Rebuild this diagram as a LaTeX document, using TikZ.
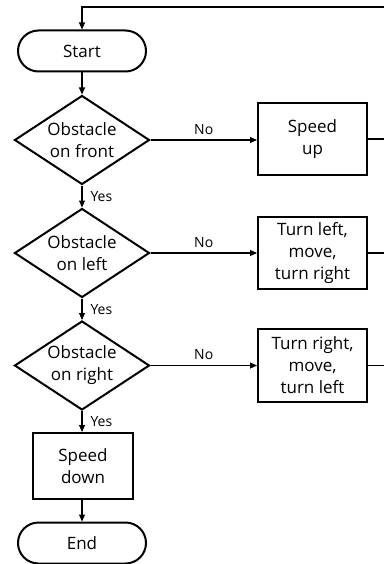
\documentclass[tikz,border=0pt]{standalone}
\usepackage{fontspec}
\setmainfont{Open Sans}
\usetikzlibrary{shapes.geometric,arrows.meta}
\begin{document}
\begin{tikzpicture}[x=1pt,y=-1pt,
  base/.style={draw,line width=2pt,align=center,inner sep=0pt,font=\fontsize{17}{22}\selectfont},
  term/.style={base,rectangle,rounded corners=20.5pt,minimum width=128pt,minimum height=41pt},
  decision/.style={base,diamond,aspect=1.52,minimum width=135pt,minimum height=89pt},
  process/.style={base,rectangle,minimum width=109pt,minimum height=72pt},
  conn/.style={line width=1.1pt,-{Triangle[length=7pt,width=6pt]}},
  plain/.style={line width=1.1pt},
  lbl/.style={font=\fontsize{14}{16}\selectfont,inner sep=2pt}]
\useasboundingbox (0,0) rectangle (384,564);
\node[term] (start) at (82,51) {Start};
\node[decision] (d1) at (82,140) {Obstacle\\on front};
\node[process] (b1) at (312.5,139) {Speed\\up};
\node[decision] (d2) at (82,253) {Obstacle\\on left};
\node[process] (b2) at (312.5,253) {Turn left,\\move,\\turn right};
\node[decision] (d3) at (82,365.5) {Obstacle\\on right};
\node[process,minimum height=73pt] (b3) at (312.5,365.5) {Turn right,\\move,\\turn left};
\node[process,minimum width=100pt,minimum height=66pt] (sd) at (83,466) {Speed\\down};
\node[term] (end) at (82,543) {End};
\coordinate (topl) at (82,7);
\coordinate (topr) at (384,7);
\coordinate (r1) at (384,139);
\coordinate (r2) at (384,253);
\coordinate (r3) at (384,365.5);
\draw[conn] (topr) -- (topl) -- (start.north);
\draw[conn] (start.south) -- (d1.north);
\draw[conn] (d1.east) -- node[lbl,above,yshift=3pt] {No} (b1.west |- d1.east);
\draw[conn] (d2.east) -- node[lbl,above,yshift=3pt] {No} (b2.west |- d2.east);
\draw[conn] (d3.east) -- node[lbl,above,yshift=3pt] {No} (b3.west |- d3.east);
\draw[conn] (d1.south) -- node[lbl,right,xshift=6pt] {Yes} (d2.north);
\draw[conn] (d2.south) -- node[lbl,right,xshift=6pt] {Yes} (d3.north);
\draw[conn] (d3.south) -- node[lbl,right,xshift=6pt] {Yes} (sd.north -| d3.south);
\draw[conn] (sd.south -| end.north) -- (end.north);
\draw[plain] (b1.east) -- (r1);
\draw[plain] (b2.east) -- (r2);
\draw[plain] (b3.east) -- (r3);
\end{tikzpicture}
\end{document}
